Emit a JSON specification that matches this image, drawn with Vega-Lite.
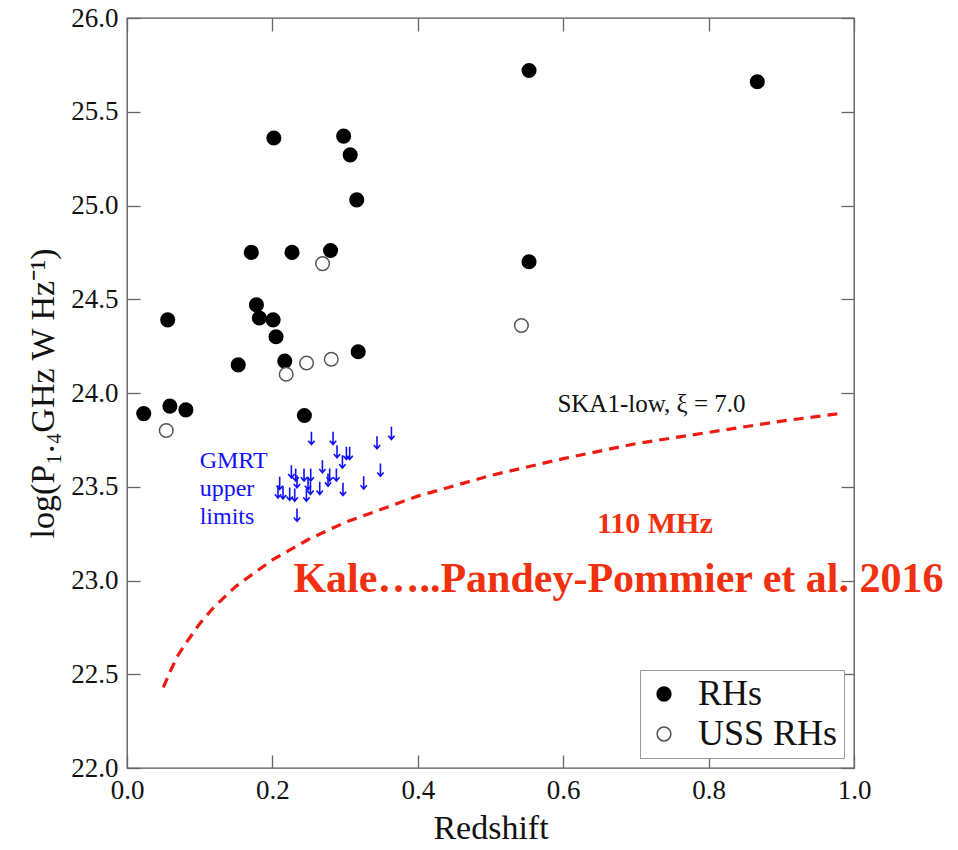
{
  "$schema": "https://vega.github.io/schema/vega-lite/v6.json",
  "autosize": {"type": "none"},
  "width": 727,
  "height": 750,
  "padding": {"left": 127, "top": 18, "right": 104, "bottom": 82},
  "background": "white",
  "config": {
    "view": {"stroke": "#555", "strokeWidth": 1.3},
    "axis": {
      "domain": false, "grid": false, "offset": -13, "labelFlush": false, "labelOverlap": false,
      "tickColor": "#666", "tickSize": 13, "tickWidth": 1.3,
      "labelFont": "Liberation Serif", "labelFontSize": 27, "labelColor": "#111",
      "titleFont": "Liberation Serif", "titleFontSize": 34, "titleFontWeight": "normal", "titleColor": "#111"
    },
    "legend": {
      "orient": "bottom-right", "offset": 10, "strokeColor": "#999", "fillColor": "white",
      "padding": 6, "labelFont": "Liberation Serif", "labelFontSize": 36, "labelColor": "#111",
      "symbolSize": 190, "symbolStrokeWidth": 1.5, "rowPadding": 4, "labelLimit": 400, "labelOffset": 16
    }
  },
  "datasets": {
    "clusters": [
      {"z": 0.202, "logP": 25.36, "type": "RHs"},
      {"z": 0.298, "logP": 25.37, "type": "RHs"},
      {"z": 0.307, "logP": 25.27, "type": "RHs"},
      {"z": 0.316, "logP": 25.03, "type": "RHs"},
      {"z": 0.171, "logP": 24.75, "type": "RHs"},
      {"z": 0.227, "logP": 24.75, "type": "RHs"},
      {"z": 0.280, "logP": 24.76, "type": "RHs"},
      {"z": 0.178, "logP": 24.47, "type": "RHs"},
      {"z": 0.182, "logP": 24.40, "type": "RHs"},
      {"z": 0.201, "logP": 24.39, "type": "RHs"},
      {"z": 0.205, "logP": 24.30, "type": "RHs"},
      {"z": 0.056, "logP": 24.39, "type": "RHs"},
      {"z": 0.318, "logP": 24.22, "type": "RHs"},
      {"z": 0.153, "logP": 24.15, "type": "RHs"},
      {"z": 0.217, "logP": 24.17, "type": "RHs"},
      {"z": 0.023, "logP": 23.89, "type": "RHs"},
      {"z": 0.059, "logP": 23.93, "type": "RHs"},
      {"z": 0.081, "logP": 23.91, "type": "RHs"},
      {"z": 0.244, "logP": 23.88, "type": "RHs"},
      {"z": 0.553, "logP": 25.72, "type": "RHs"},
      {"z": 0.867, "logP": 25.66, "type": "RHs"},
      {"z": 0.553, "logP": 24.70, "type": "RHs"},
      {"z": 0.269, "logP": 24.69, "type": "USS RHs"},
      {"z": 0.247, "logP": 24.16, "type": "USS RHs"},
      {"z": 0.281, "logP": 24.18, "type": "USS RHs"},
      {"z": 0.219, "logP": 24.10, "type": "USS RHs"},
      {"z": 0.054, "logP": 23.80, "type": "USS RHs"},
      {"z": 0.5425, "logP": 24.36, "type": "USS RHs"}
    ],
    "limits": [
      {"z": 0.2537, "logP": 23.759}, {"z": 0.2834, "logP": 23.759}, {"z": 0.3637, "logP": 23.786},
      {"z": 0.3439, "logP": 23.736}, {"z": 0.2889, "logP": 23.688}, {"z": 0.3018, "logP": 23.679},
      {"z": 0.3063, "logP": 23.679}, {"z": 0.2963, "logP": 23.634}, {"z": 0.2688, "logP": 23.608},
      {"z": 0.3486, "logP": 23.590}, {"z": 0.2261, "logP": 23.581}, {"z": 0.2320, "logP": 23.564},
      {"z": 0.2435, "logP": 23.564}, {"z": 0.2527, "logP": 23.564}, {"z": 0.2788, "logP": 23.564},
      {"z": 0.2880, "logP": 23.564}, {"z": 0.2765, "logP": 23.537}, {"z": 0.2338, "logP": 23.528},
      {"z": 0.2100, "logP": 23.519}, {"z": 0.3256, "logP": 23.522}, {"z": 0.2490, "logP": 23.519},
      {"z": 0.2651, "logP": 23.493}, {"z": 0.2523, "logP": 23.493}, {"z": 0.2971, "logP": 23.487},
      {"z": 0.2077, "logP": 23.474}, {"z": 0.2146, "logP": 23.469}, {"z": 0.2238, "logP": 23.462},
      {"z": 0.2307, "logP": 23.457}, {"z": 0.2468, "logP": 23.457}, {"z": 0.2338, "logP": 23.350}
    ],
    "ska": [
      {"z": 0.05, "logP": 22.43}, {"z": 0.06, "logP": 22.52}, {"z": 0.07, "logP": 22.60},
      {"z": 0.08, "logP": 22.66}, {"z": 0.10, "logP": 22.77}, {"z": 0.12, "logP": 22.86},
      {"z": 0.15, "logP": 22.97}, {"z": 0.20, "logP": 23.11}, {"z": 0.25, "logP": 23.22},
      {"z": 0.30, "logP": 23.31}, {"z": 0.40, "logP": 23.45}, {"z": 0.50, "logP": 23.56},
      {"z": 0.60, "logP": 23.65}, {"z": 0.70, "logP": 23.73}, {"z": 0.80, "logP": 23.79},
      {"z": 0.90, "logP": 23.85}, {"z": 0.98, "logP": 23.89}
    ],
    "notes": [
      {"z": 0.592, "logP": 23.94, "label": "SKA1-low, ξ = 7.0", "kind": "ska"},
      {"z": 0.100, "logP": 23.64, "label": "GMRT", "kind": "gmrt"},
      {"z": 0.100, "logP": 23.49, "label": "upper", "kind": "gmrt"},
      {"z": 0.100, "logP": 23.34, "label": "limits", "kind": "gmrt"}
    ],
    "credits": [
      {"z": 0.726, "logP": 23.30, "label": "110 MHz", "size": 30},
      {"z": 0.676, "logP": 23.01, "label": "Kale…..Pandey-Pommier et al. 2016", "size": 42}
    ]
  },
  "layer": [
    {
      "data": {"name": "ska"},
      "mark": {"type": "line", "color": "#f01a10", "strokeWidth": 3.2, "strokeDash": [10, 7]},
      "encoding": {
        "x": {"field": "z", "type": "quantitative", "scale": {"domain": [0, 1], "nice": false, "zero": false},
              "axis": {"orient": "bottom", "title": "Redshift", "values": [0, 0.2, 0.4, 0.6, 0.8, 1.0], "format": ".1f", "labelPadding": 9, "titlePadding": 8}},
        "y": {"field": "logP", "type": "quantitative", "scale": {"domain": [22, 26], "nice": false, "zero": false},
              "axis": {"orient": "left", "title": "log(P₁.₄GHz W Hz⁻¹)", "values": [22, 22.5, 23, 23.5, 24, 24.5, 25, 25.5, 26], "format": ".1f", "labelPadding": 9, "titlePadding": 10}}
      }
    },
    {
      "data": {"name": "limits"},
      "mark": {"type": "point", "shape": "M0,-1L0,1M-0.5,0.4L0,1L0.5,0.4", "filled": false, "stroke": "#1010ff", "strokeWidth": 1.6, "size": 160, "opacity": 1},
      "encoding": {
        "x": {"field": "z", "type": "quantitative", "axis": {"orient": "top", "labels": false, "title": null, "values": [0, 0.2, 0.4, 0.6, 0.8, 1.0]}},
        "y": {"field": "logP", "type": "quantitative", "axis": {"orient": "right", "labels": false, "title": null, "values": [22, 22.5, 23, 23.5, 24, 24.5, 25, 25.5, 26]}}
      }
    },
    {
      "data": {"name": "clusters"},
      "mark": {"type": "point", "shape": "circle", "size": 185, "strokeWidth": 1.5, "opacity": 1},
      "encoding": {
        "x": {"field": "z", "type": "quantitative", "axis": null},
        "y": {"field": "logP", "type": "quantitative", "axis": null},
        "fill": {"field": "type", "type": "nominal", "scale": {"domain": ["RHs", "USS RHs"], "range": ["black", "white"]}, "legend": {"title": null}},
        "stroke": {"field": "type", "type": "nominal", "scale": {"domain": ["RHs", "USS RHs"], "range": ["black", "#555"]}, "legend": {"title": null}}
      }
    },
    {
      "data": {"name": "notes"},
      "mark": {"type": "text", "align": "left", "baseline": "middle", "font": "Liberation Serif"},
      "encoding": {
        "x": {"field": "z", "type": "quantitative", "axis": null},
        "y": {"field": "logP", "type": "quantitative", "axis": null},
        "text": {"field": "label"},
        "color": {"field": "kind", "type": "nominal", "scale": {"domain": ["ska", "gmrt"], "range": ["#111", "#1010ff"]}, "legend": null},
        "size": {"field": "kind", "type": "nominal", "scale": {"domain": ["ska", "gmrt"], "range": [25, 24]}, "legend": null}
      }
    },
    {
      "data": {"name": "credits"},
      "mark": {"type": "text", "align": "center", "baseline": "middle", "font": "Liberation Serif", "fontWeight": "bold", "color": "#f0300f"},
      "encoding": {
        "x": {"field": "z", "type": "quantitative", "axis": null},
        "y": {"field": "logP", "type": "quantitative", "axis": null},
        "text": {"field": "label"},
        "size": {"field": "size", "type": "quantitative", "scale": null}
      }
    }
  ]
}
